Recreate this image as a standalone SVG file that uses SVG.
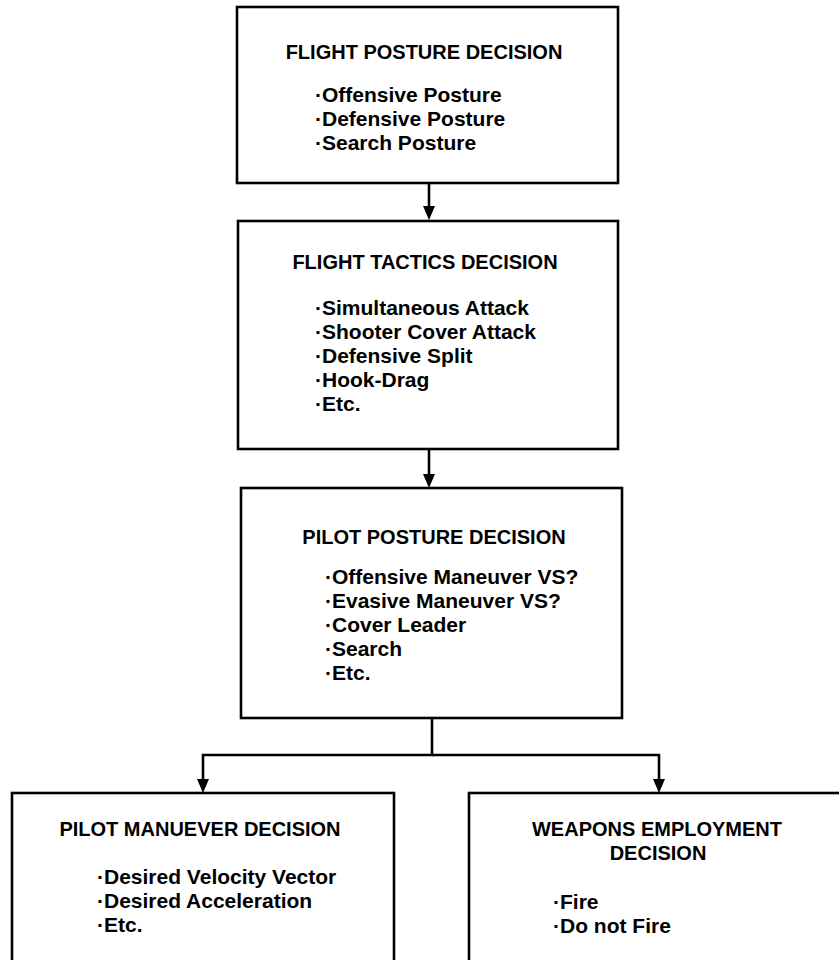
<svg xmlns="http://www.w3.org/2000/svg" width="839" height="960" viewBox="0 0 839 960">
<defs>
<style>
.box{fill:#fff;stroke:#000;stroke-width:2.6}
.t{font-family:"Liberation Sans",Arial,sans-serif;font-weight:bold;font-size:20px;fill:#000}
.i{font-family:"Liberation Sans",Arial,sans-serif;font-weight:bold;font-size:21px;fill:#000}
.c{fill:none;stroke:#000;stroke-width:2.6}
</style>
<marker id="ah" viewBox="0 0 12 14" refX="6" refY="14" markerWidth="12" markerHeight="14" markerUnits="userSpaceOnUse" orient="auto-start-reverse">
<path d="M0,0 L12,0 L6,14 Z" fill="#000"/>
</marker>
</defs>
<rect width="839" height="960" fill="#fff"/>
<g id="connectors">
<line class="c" x1="429" y1="183" x2="429" y2="207"/>
<path d="M423,206 L435,206 L429,220 Z"/>
<line class="c" x1="429" y1="449" x2="429" y2="475"/>
<path d="M423,474 L435,474 L429,488 Z"/>
<polyline class="c" points="432,718 432,755 203,755 203,781"/>
<polyline class="c" points="432,755 659,755 659,781"/>
<path d="M197,779 L209,779 L203,793 Z"/>
<path d="M653,779 L665,779 L659,793 Z"/>
</g>
<g id="flight-posture">
<rect class="box" x="237" y="7" width="381" height="176"/>
<text class="t" x="424" y="59" text-anchor="middle">FLIGHT POSTURE DECISION</text>
<text class="i" x="315" y="102">·Offensive Posture</text>
<text class="i" x="315" y="126">·Defensive Posture</text>
<text class="i" x="315" y="150">·Search Posture</text>
</g>
<g id="flight-tactics">
<rect class="box" x="238" y="221" width="380" height="228"/>
<text class="t" x="425" y="269" text-anchor="middle">FLIGHT TACTICS DECISION</text>
<text class="i" x="315" y="315">·Simultaneous Attack</text>
<text class="i" x="315" y="339">·Shooter Cover Attack</text>
<text class="i" x="315" y="363">·Defensive Split</text>
<text class="i" x="315" y="387">·Hook-Drag</text>
<text class="i" x="315" y="411">·Etc.</text>
</g>
<g id="pilot-posture">
<rect class="box" x="241" y="488" width="381" height="230"/>
<text class="t" x="434" y="544" text-anchor="middle">PILOT POSTURE DECISION</text>
<text class="i" x="325" y="584">·Offensive Maneuver VS?</text>
<text class="i" x="325" y="608">·Evasive Maneuver VS?</text>
<text class="i" x="325" y="632">·Cover Leader</text>
<text class="i" x="325" y="656">·Search</text>
<text class="i" x="325" y="680">·Etc.</text>
</g>
<g id="pilot-maneuver">
<rect class="box" x="12" y="793" width="382" height="200"/>
<text class="t" x="200" y="836" text-anchor="middle">PILOT MANUEVER DECISION</text>
<text class="i" x="97" y="884">·Desired Velocity Vector</text>
<text class="i" x="97" y="908">·Desired Acceleration</text>
<text class="i" x="97" y="932">·Etc.</text>
</g>
<g id="weapons-employment">
<rect class="box" x="469" y="793" width="400" height="200"/>
<text class="t" x="657" y="836" text-anchor="middle">WEAPONS EMPLOYMENT</text>
<text class="t" x="658" y="860" text-anchor="middle">DECISION</text>
<text class="i" x="553" y="909">·Fire</text>
<text class="i" x="553" y="933">·Do not Fire</text>
</g>
</svg>
